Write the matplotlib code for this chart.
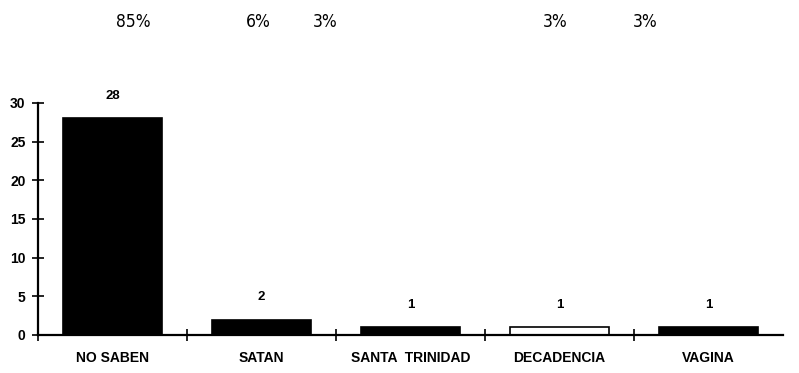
import matplotlib
matplotlib.use("Agg")
import matplotlib.pyplot as plt

categories = ["NO SABEN", "SATAN", "SANTA  TRINIDAD", "DECADENCIA", "VAGINA"]
values = [28, 2, 1, 1, 1]
percent_labels = ["85%", "6%", "3%", "3%", "3%"]
yticks = [0, 5, 10, 15, 20, 25, 30]

bar_colors = ["black", "black", "black", "white", "black"]
percent_x_px = [133, 258, 325, 555, 645]

W, H = 799, 373
fig = plt.figure(figsize=(W / 100, H / 100), dpi=100)
ax = fig.add_axes([38 / W, 38 / H, (783 - 38) / W, 232 / H])

x = list(range(len(categories)))
ax.bar(x, values, width=0.67, color=bar_colors, edgecolor="black", linewidth=1.2, zorder=2)

for xi, v in zip(x, values):
    ax.annotate(str(v), (xi, v), xytext=(0, 16), textcoords="offset points",
                ha="center", va="center", fontsize=9.5, fontweight="bold",
                family="Liberation Sans")

ax.set_xlim(-0.5, len(categories) - 0.5)
ax.set_ylim(0, 30)
ax.set_yticks(yticks)
ax.set_yticklabels([str(t) for t in yticks], fontsize=10, fontweight="bold", family="Liberation Sans")

ax.set_xticks([i + 0.5 for i in x[:-1]] + [-0.5])
ax.set_xticklabels([])
ax.tick_params(axis="x", direction="inout", length=8, width=1.2)
ax.tick_params(axis="y", direction="inout", length=8, width=1.2, pad=5)
for xi, c in zip(x, categories):
    ax.text(xi, -0.1, c, transform=ax.get_xaxis_transform(), ha="center", va="center",
            fontsize=10, fontweight="bold", family="Liberation Sans")

for s in ["top", "right"]:
    ax.spines[s].set_visible(False)
ax.spines["left"].set_linewidth(1.6)
ax.spines["bottom"].set_linewidth(1.6)

for px, lab in zip(percent_x_px, percent_labels):
    fig.text(px / W, 1 - 22 / H, lab, ha="center", va="center", fontsize=12.5,
             family="DejaVu Sans", stretch="condensed")

fig.savefig("out.png", dpi=100)
